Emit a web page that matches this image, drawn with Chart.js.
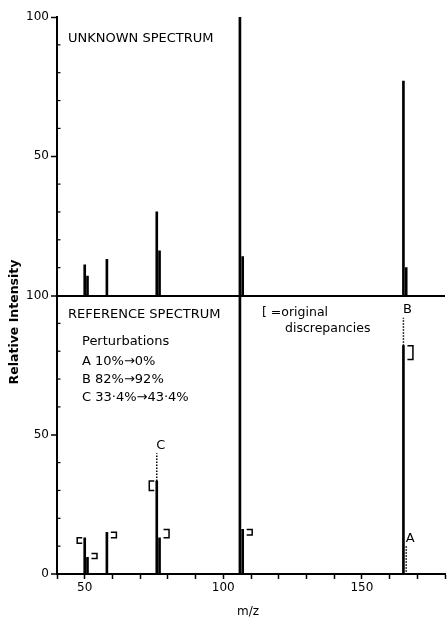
<!DOCTYPE html>
<html>
<head>
<meta charset="utf-8">
<script src="https://cdn.jsdelivr.net/npm/chart.js@4.4.1/dist/chart.umd.min.js"></script>
<style>
  html, body { margin: 0; padding: 0; background: #fff; }
  #wrap { width: 447px; height: 624px; }
</style>
</head>
<body>
<div id="wrap"><canvas id="spec" width="447" height="624"></canvas></div>
<script>
// Peaks (m/z) shared by both spectra
const mz = [50, 51, 58, 76, 77, 106, 107, 165, 166];
// Relative intensities (%) of the unknown spectrum
const unknownIntensity = [11, 7, 13, 30, 16, 100, 14, 77, 10];
// Relative intensities (%) of the reference spectrum before perturbation
const referenceIntensity = [13, 6, 15, 33.4, 13, 100, 16, 82, 10];
// Perturbations applied to the reference spectrum
const perturbLabels = ['A', 'B', 'C'];
const perturbMz = [166, 165, 76];
const perturbFrom = [10, 82, 33.4];
const perturbTo = [0, 92, 43.4];
// Axis ticks
const yTickLabels = [0, 50, 100];
const xTickLabels = [50, 100, 150];
const xRange = [40, 180];

// Peaks whose discrepancy bracket sits on the left of the line
const leftBrackets = [50, 76];

const FONT = 'DejaVu Sans';

// Solid part of each reference peak: the value kept by the perturbation
const referenceSolid = mz.map((m, i) => {
  const j = perturbMz.indexOf(m);
  return j < 0 ? referenceIntensity[i] : Math.min(perturbFrom[j], perturbTo[j]);
});

const fmtPct = v => String(v).replace('.', '\u00B7') + '%';

const barBase = {
  type: 'bar',
  backgroundColor: '#000',
  borderWidth: 0,
  barThickness: 2,
  grouped: false
};

const datasets = [
  Object.assign({}, barBase, {
    label: 'Unknown spectrum',
    yAxisID: 'yU',
    data: mz.map((m, i) => ({ x: m, y: unknownIntensity[i] }))
  }),
  Object.assign({}, barBase, {
    label: 'Reference spectrum',
    yAxisID: 'yR',
    data: mz.map((m, i) => ({ x: m, y: referenceSolid[i] }))
  })
].concat(perturbMz.map((m, j) => ({
  type: 'line',
  label: 'Perturbation ' + perturbLabels[j],
  yAxisID: 'yR',
  data: [{ x: m, y: perturbFrom[j] }, { x: m, y: perturbTo[j] }],
  borderColor: '#000',
  borderWidth: 1.5,
  borderDash: [1.5, 1.5],
  pointRadius: 0,
  fill: false
})));

// Brackets, peak letters, inner minor ticks and free text
const annotate = {
  id: 'annotate',
  afterDraw(chart) {
    const { ctx, chartArea: a, scales } = chart;
    const x = scales.x, yU = scales.yU, yR = scales.yR;
    ctx.save();
    ctx.fillStyle = '#000';
    ctx.strokeStyle = '#000';

    // minor ticks on the inside of the intensity axes
    ctx.lineWidth = 1.2;
    [yU, yR].forEach(s => {
      s.ticks.forEach(t => {
        if (t.value % 50 === 0) return;
        const py = s.getPixelForValue(t.value);
        ctx.beginPath();
        ctx.moveTo(a.left, py);
        ctx.lineTo(a.left + 3.5, py);
        ctx.stroke();
      });
    });

    // discrepancy brackets between unknown and reference intensities
    ctx.lineWidth = 1.5;
    mz.forEach((m, i) => {
      const u = unknownIntensity[i], r = referenceIntensity[i];
      if (u === r) return;
      const left = leftBrackets.includes(m);
      const side = left ? -1 : 1;
      const px = x.getPixelForValue(m);
      let top = Math.min(yR.getPixelForValue(u), yR.getPixelForValue(r));
      let bot = Math.max(yR.getPixelForValue(u), yR.getPixelForValue(r));
      if (bot - top < 5) { const c = (top + bot) / 2; top = c - 2.5; bot = c + 2.5; }
      const near = px + side * (left ? 2.5 : 4), far = px + side * (left ? 7.5 : 9.5);
      ctx.beginPath();
      ctx.moveTo(near, top);
      ctx.lineTo(far, top);
      ctx.lineTo(far, bot);
      ctx.lineTo(near, bot);
      ctx.stroke();
    });

    // letters at the top of each perturbed peak
    ctx.font = '13px "' + FONT + '"';
    ctx.textAlign = 'center';
    ctx.textBaseline = 'middle';
    perturbMz.forEach((m, j) => {
      const px = x.getPixelForValue(m);
      const py = yR.getPixelForValue(Math.max(perturbFrom[j], perturbTo[j]));
      ctx.fillText(perturbLabels[j], px + 4, py - 8);
    });

    // panel captions
    ctx.textAlign = 'left';
    ctx.font = '13px "' + FONT + '"';
    ctx.fillText('UNKNOWN SPECTRUM', a.left + 11, yU.top + 22);
    ctx.fillText('REFERENCE SPECTRUM', a.left + 11, yR.top + 19);
    ctx.fillText('Perturbations', a.left + 25, yR.top + 46);
    perturbLabels.forEach((lab, j) => {
      ctx.fillText(lab + ' ' + fmtPct(perturbFrom[j]) + '\u2192' + fmtPct(perturbTo[j]),
        a.left + 25, yR.top + 66 + j * 18);
    });

    ctx.font = '12.5px "' + FONT + '"';
    ctx.fillText('[ =original', a.left + 205, yR.top + 17);
    ctx.fillText('discrepancies', a.left + 228, yR.top + 33);

    // axis titles
    ctx.textAlign = 'center';
    ctx.font = '12px "' + FONT + '"';
    ctx.fillText('m/z', 248, 612);
    ctx.save();
    ctx.translate(15, 322);
    ctx.rotate(-Math.PI / 2);
    ctx.font = 'bold 12.5px "' + FONT + '"';
    ctx.fillText('Relative Intensity', 0, 0);
    ctx.restore();

    ctx.restore();
  }
};

const yScale = (weight, showZeroLabel) => ({
  type: 'linear',
  position: 'left',
  stack: 'intensity',
  stackWeight: weight,
  min: 0,
  max: 100,
  afterFit: s => { s.width = 57; },
  ticks: {
    stepSize: 10,
    autoSkip: false,
    padding: 2,
    color: '#000',
    font: { family: FONT, size: 12 },
    callback: v => (yTickLabels.includes(v) && (v !== 0 || showZeroLabel)) ? String(v) : ''
  },
  border: { display: true, color: '#000', width: 2 },
  grid: {
    drawOnChartArea: false,
    tickLength: 6,
    tickWidth: 1.5,
    tickColor: c => (c.tick && c.tick.value % 50 === 0 && (c.tick.value !== 0 || showZeroLabel)) ? '#000' : 'rgba(0,0,0,0)'
  }
});

// lower panel is listed first so that the stacked axes put the unknown spectrum on top
const scales = {
  x: {
    type: 'linear',
    offset: false,
    min: xRange[0],
    max: xRange[1],
    afterFit: s => { s.height = 50; },
    ticks: {
      stepSize: 10,
      autoSkip: false,
      padding: 2,
      maxRotation: 0,
      color: '#000',
      font: { family: FONT, size: 12 },
      callback: v => xTickLabels.includes(v) ? String(v) : ''
    },
    border: { display: true, color: '#000', width: 2 },
    grid: { offset: false, drawOnChartArea: false, tickLength: 5, tickWidth: 1.5, tickColor: '#000' }
  },
  yR: yScale(1, true),
  yU: yScale(1, false)
};
// separating baseline of the upper spectrum = top line of the lower panel
scales.yR.grid.drawOnChartArea = true;
scales.yR.grid.color = c => (c.tick && c.tick.value === 100) ? '#000' : 'rgba(0,0,0,0)';
scales.yR.grid.lineWidth = 2;

new Chart(document.getElementById('spec'), {
  data: { datasets },
  options: {
    responsive: false,
    animation: false,
    devicePixelRatio: 1,
    layout: { padding: { top: 17, right: 1, left: 0, bottom: 0 } },
    plugins: { legend: { display: false }, tooltip: { enabled: false }, title: { display: false } },
    scales
  },
  plugins: [annotate]
});
</script>
</body>
</html>
